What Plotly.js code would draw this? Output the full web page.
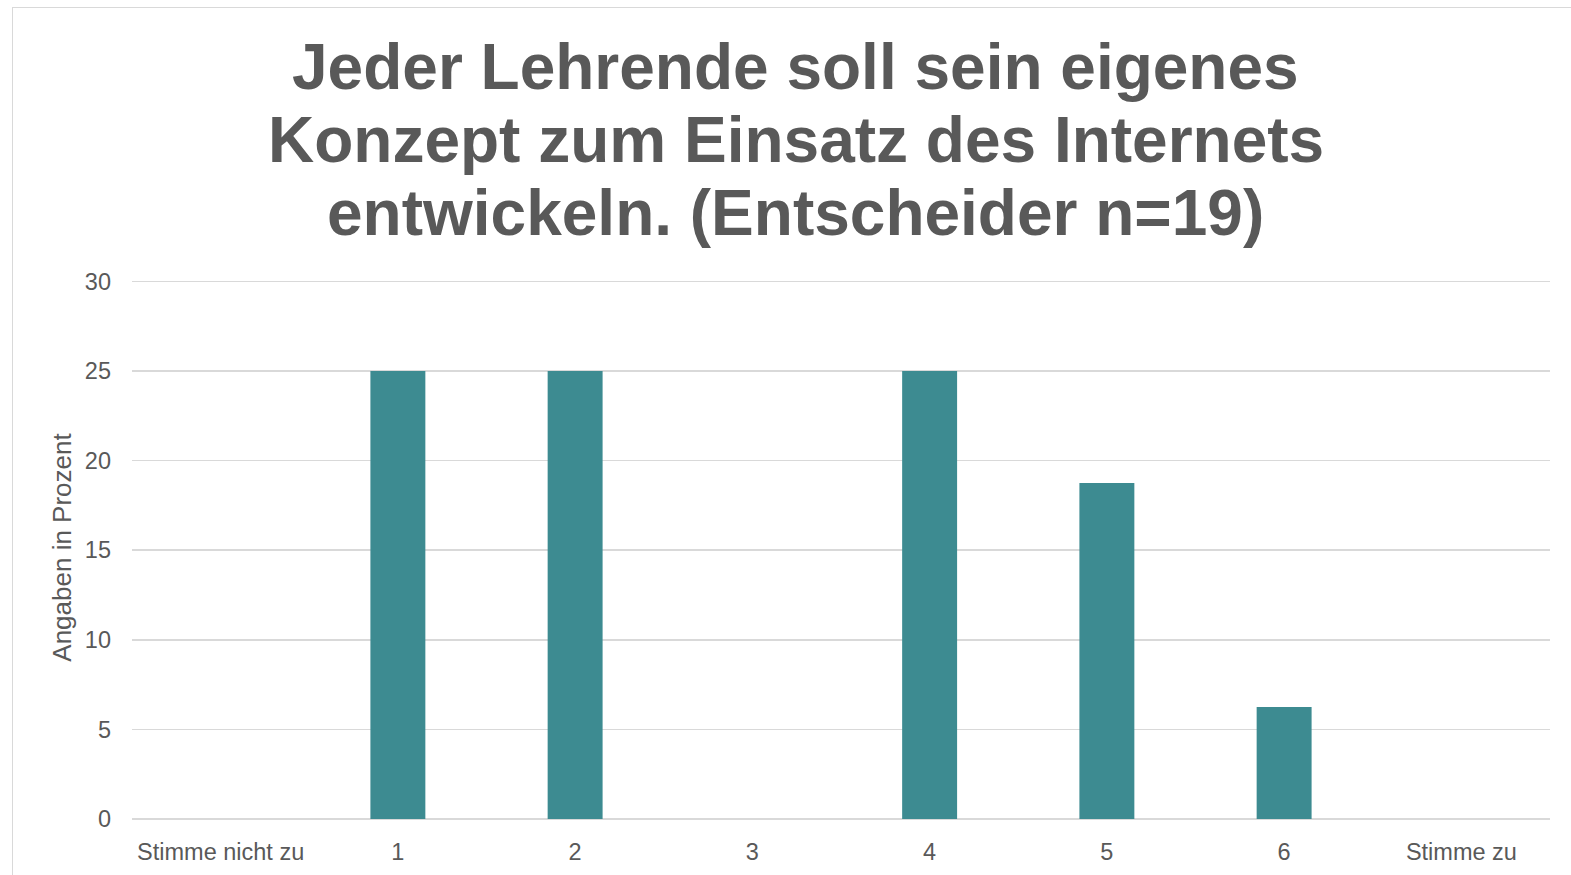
<!DOCTYPE html>
<html>
<head>
<meta charset="utf-8">
<script src="https://cdn.plot.ly/plotly-3.0.1.min.js"></script>
<style>
  html, body { margin: 0; padding: 0; background: #fff; overflow: hidden; }
  #frame { position: absolute; left: 12px; top: 7px; width: 1580px; height: 900px; border: 1.5px solid #d9d9d9; box-sizing: border-box; }
  #chart { position: absolute; left: 0; top: 0; width: 1571px; height: 875px; }
</style>
</head>
<body>
<div id="frame"></div>
<div id="chart"></div>
<script>
// answers on a 1..6 scale, share of respondents in percent
const categories = ['Stimme nicht zu', '1', '2', '3', '4', '5', '6', 'Stimme zu'];
const percent = [0, 25, 25, 0, 25, 18.75, 6.25, 0];
const yTicks = [0, 5, 10, 15, 20, 25, 30];
const titleLines = [
  'Jeder Lehrende soll sein eigenes',
  'Konzept zum Einsatz des Internets',
  'entwickeln. (Entscheider n=19)',
];

const GREY = '#595959';
const FONT = { family: '"Liberation Sans", Arial, sans-serif', size: 23.5, color: GREY };

const traces = [{
  type: 'bar',
  x: categories,
  y: percent,
  marker: { color: '#3d8b91' },
  hoverinfo: 'x+y',
}];

// plot area is 543px tall (t=276, b=56); headroom above 30 keeps its gridline
const plotH = 543;
const titleAnnotations = titleLines.map((line, i) => ({
  text: line,
  xref: 'paper', yref: 'paper',
  x: 0.468, xanchor: 'center',
  y: (819 - 67 - 73 * i) / plotH, yanchor: 'middle',
  showarrow: false,
  font: { ...FONT, size: 64, weight: 'bold' },
}));

const layout = {
  width: 1571, height: 875,
  paper_bgcolor: 'rgba(0,0,0,0)',
  plot_bgcolor: 'rgba(0,0,0,0)',
  font: FONT,
  annotations: titleAnnotations,
  margin: { l: 132, r: 21, t: 276, b: 56 },
  bargap: 0.69,
  showlegend: false,
  xaxis: {
    type: 'category',
    showgrid: false,
    showline: false,
    zeroline: false,
    ticks: '',
    ticklabelstandoff: 16,
    tickfont: { ...FONT },
  },
  yaxis: {
    range: [0, 30.3],
    tickvals: yTicks,
    showgrid: true,
    gridcolor: '#d9d9d9',
    gridwidth: 1.5,
    zeroline: true,
    zerolinecolor: '#d9d9d9',
    zerolinewidth: 1.5,
    showline: false,
    ticks: '',
    ticklabelstandoff: 20,
    tickfont: { ...FONT },
    title: { text: 'Angaben in Prozent', font: { ...FONT, size: 26 }, standoff: 5 },
  },
};

Plotly.newPlot('chart', traces, layout, { displayModeBar: false, staticPlot: true });
</script>
</body>
</html>
